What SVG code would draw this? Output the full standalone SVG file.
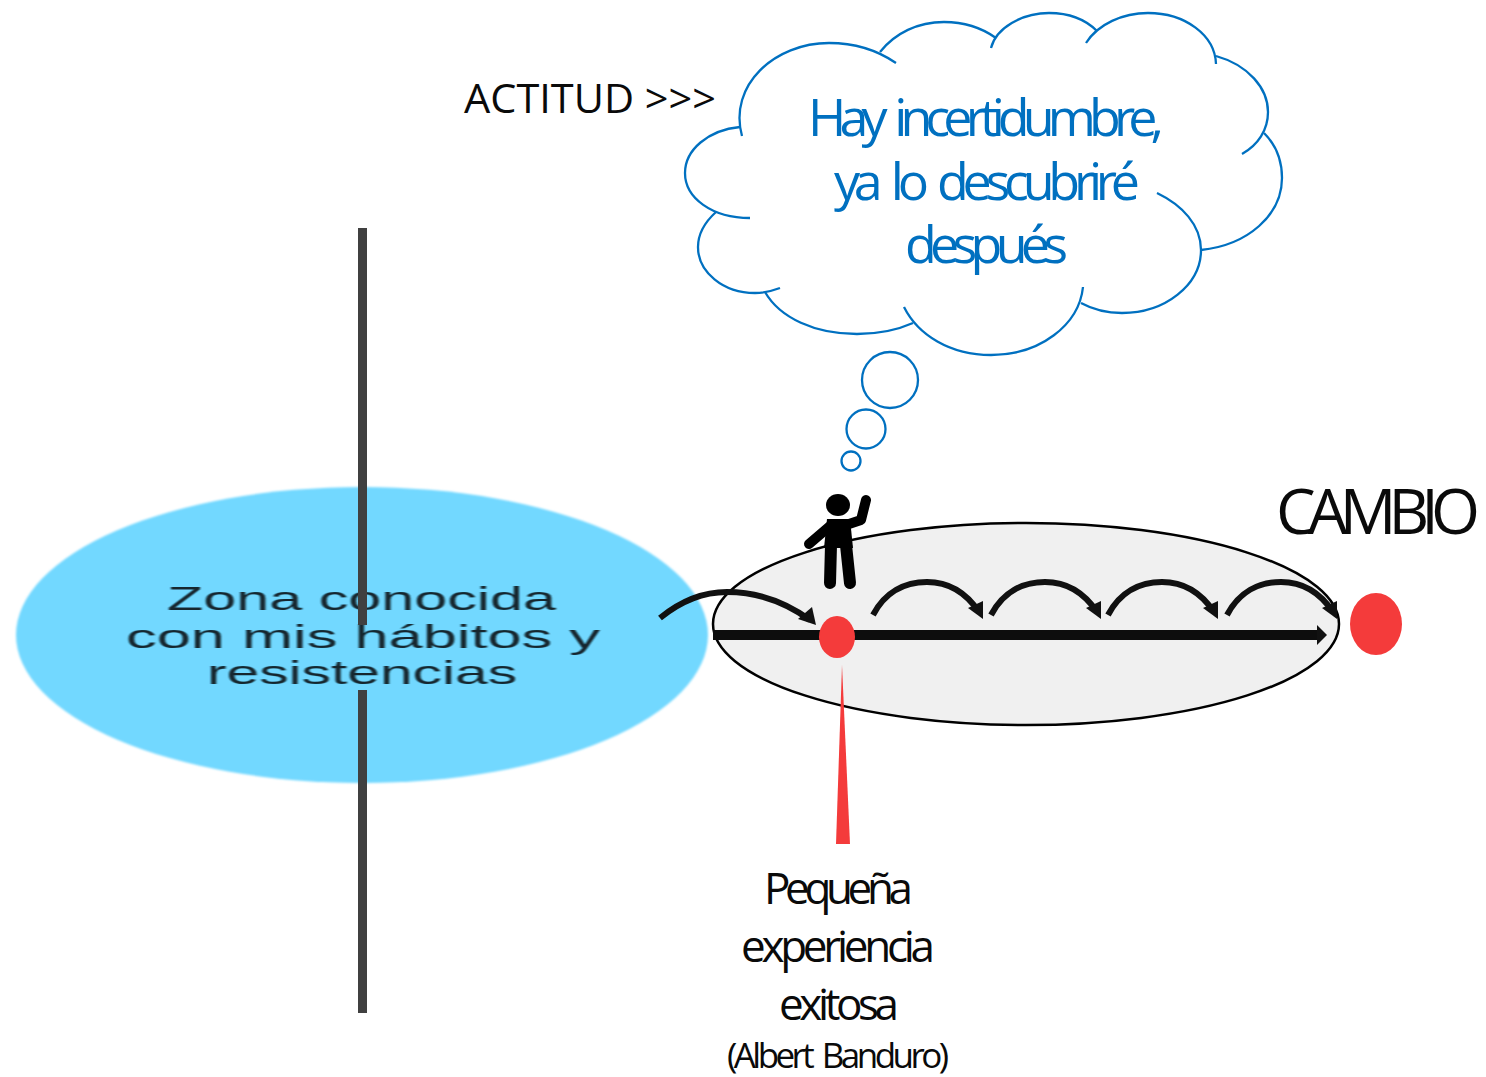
<svg xmlns="http://www.w3.org/2000/svg" xmlns:xlink="http://www.w3.org/1999/xlink" width="1486" height="1077" viewBox="0 0 1486 1077">
<style>
.lobe{fill:none;stroke:#0070c0;stroke-width:2.3}
.blue{font-family:"Open Sans","Noto Sans",sans-serif;font-size:52px;fill:#0070c0;word-spacing:7px}
.blk{font-family:"Open Sans","Noto Sans",sans-serif;fill:#0a0a0a}
.zona{font-family:"Liberation Sans",Arial,sans-serif;font-size:33px;fill:#12262f;filter:url(#soft)}
.wall{fill:#404040}
.dot{fill:#f43b3b}
.arc{fill:none;stroke:#111;stroke-width:6}
.head{fill:#111}
.limb{fill:none;stroke:#000;stroke-width:10;stroke-linecap:round;stroke-linejoin:round}
.leg{fill:none;stroke:#000;stroke-width:12;stroke-linecap:round}
</style>
<defs>
<filter id="soft" x="-5%" y="-20%" width="110%" height="140%"><feGaussianBlur stdDeviation="0.9 0.4"/></filter>
<filter id="edge" x="-2%" y="-2%" width="104%" height="104%"><feGaussianBlur stdDeviation="0.8"/></filter>
<g id="hop"><path class="arc" d="M873 615C885 592 905 582 927 582C950 582 967 594 979 612"/><polygon class="head" points="983,619 983,601 968,608"/></g>
</defs>
<g id="zona">
<ellipse cx="362" cy="635" rx="346" ry="148" fill="#72d8ff" filter="url(#edge)"/>
<text class="zona" x="167" y="610" textLength="389" lengthAdjust="spacingAndGlyphs">Zona conocida</text>
<text class="zona" x="126" y="648" textLength="474" lengthAdjust="spacingAndGlyphs">con mis hábitos y</text>
<text class="zona" x="207" y="684" textLength="310" lengthAdjust="spacingAndGlyphs">resistencias</text>
</g>
<g id="muro">
<rect class="wall" x="358" y="228" width="9" height="397"/>
<rect class="wall" x="358" y="690" width="9" height="323"/>
</g>
<g id="actitud"><text class="blk" x="464" y="113" font-size="40" textLength="252" lengthAdjust="spacingAndGlyphs">ACTITUD &gt;&gt;&gt;</text></g>
<g id="nube">
<path class="lobe" d="M742 136C728 85 775 43 829 43C855 43 877 50 896 63"/>
<path class="lobe" d="M880 52C895 33 918 22 944 22C965 22 982 28 996 38"/>
<path class="lobe" d="M991 48C996 28 1022 13 1049 13C1070 13 1086 20 1097 31"/>
<path class="lobe" d="M1086 43C1098 24 1123 13 1148 13C1185 13 1215 35 1216 64"/>
<path class="lobe" d="M1216 56C1248 65 1268 88 1268 112C1268 130 1258 145 1242 154"/>
<path class="lobe" d="M1264 133C1276 145 1282 160 1282 178C1282 215 1248 245 1201 250"/>
<path class="lobe" d="M1157 193C1182 205 1201 225 1201 250C1201 285 1165 313 1122 313C1106 313 1092 309 1081 303"/>
<path class="lobe" d="M1083 287C1079 325 1040 355 991 355C950 355 918 335 904 307"/>
<path class="lobe" d="M913 323C895 331 877 334 857 334C815 334 780 318 765 292"/>
<path class="lobe" d="M780 288C772 291 764 293 755 293C723 293 698 272 698 247C698 233 705 222 716 212"/>
<path class="lobe" d="M750 218C712 218 685 198 685 173C685 150 708 130 740 127"/>
<circle class="lobe" cx="890" cy="380" r="28"/>
<circle class="lobe" cx="866" cy="429" r="19.5"/>
<circle class="lobe" cx="851" cy="461" r="9.5"/>
<text class="blue" x="808" y="136" textLength="356">Hay incertidumbre,</text>
<text class="blue" x="834" y="200" textLength="306">ya lo descubriré</text>
<text class="blue" x="905" y="263" textLength="163">después</text>
</g>
<g id="camino"><ellipse cx="1026" cy="624" rx="313" ry="101" fill="#f0f0f0" stroke="#000" stroke-width="2.5"/></g>
<g id="persona">
<ellipse cx="838" cy="505" rx="12" ry="11"/>
<polyline class="limb" points="846,525 861,520 866,500"/>
<polyline class="limb" points="830,526 809,544"/>
<path d="M827 519H850L853 548H824Z"/>
<path class="leg" d="M831 545L830 583"/>
<path class="leg" d="M846 545L850 583"/>
</g>
<g id="conectores">
<rect x="713" y="630" width="606" height="10" fill="#0d0d0d"/>
<polygon class="head" points="1327,635 1317,625 1317,645"/>
<path class="arc" d="M660 618C682 600 705 592 727 592C757 592 785 602 810 620"/>
<polygon class="head" points="816,625 812,607 798,619"/>
<use xlink:href="#hop" href="#hop"/>
<use xlink:href="#hop" href="#hop" x="118"/>
<use xlink:href="#hop" href="#hop" x="235"/>
<use xlink:href="#hop" href="#hop" x="354"/>
</g>
<g id="experiencia">
<polygon class="dot" points="842,665 836,844 850,844"/>
<ellipse class="dot" cx="837" cy="637" rx="18" ry="21"/>
<text class="blk" x="764" y="904" font-size="44" textLength="149">Pequeña</text>
<text class="blk" x="741" y="962" font-size="44" textLength="194">experiencia</text>
<text class="blk" x="779" y="1020" font-size="44" textLength="120">exitosa</text>
<text class="blk" x="727" y="1068" font-size="35" textLength="222" word-spacing="5">(Albert Banduro)</text>
</g>
<g id="cambio">
<ellipse class="dot" cx="1376" cy="624" rx="26" ry="31"/>
<text class="blk" x="1276" y="534" font-size="63" textLength="204">CAMBIO</text>
</g>
</svg>
